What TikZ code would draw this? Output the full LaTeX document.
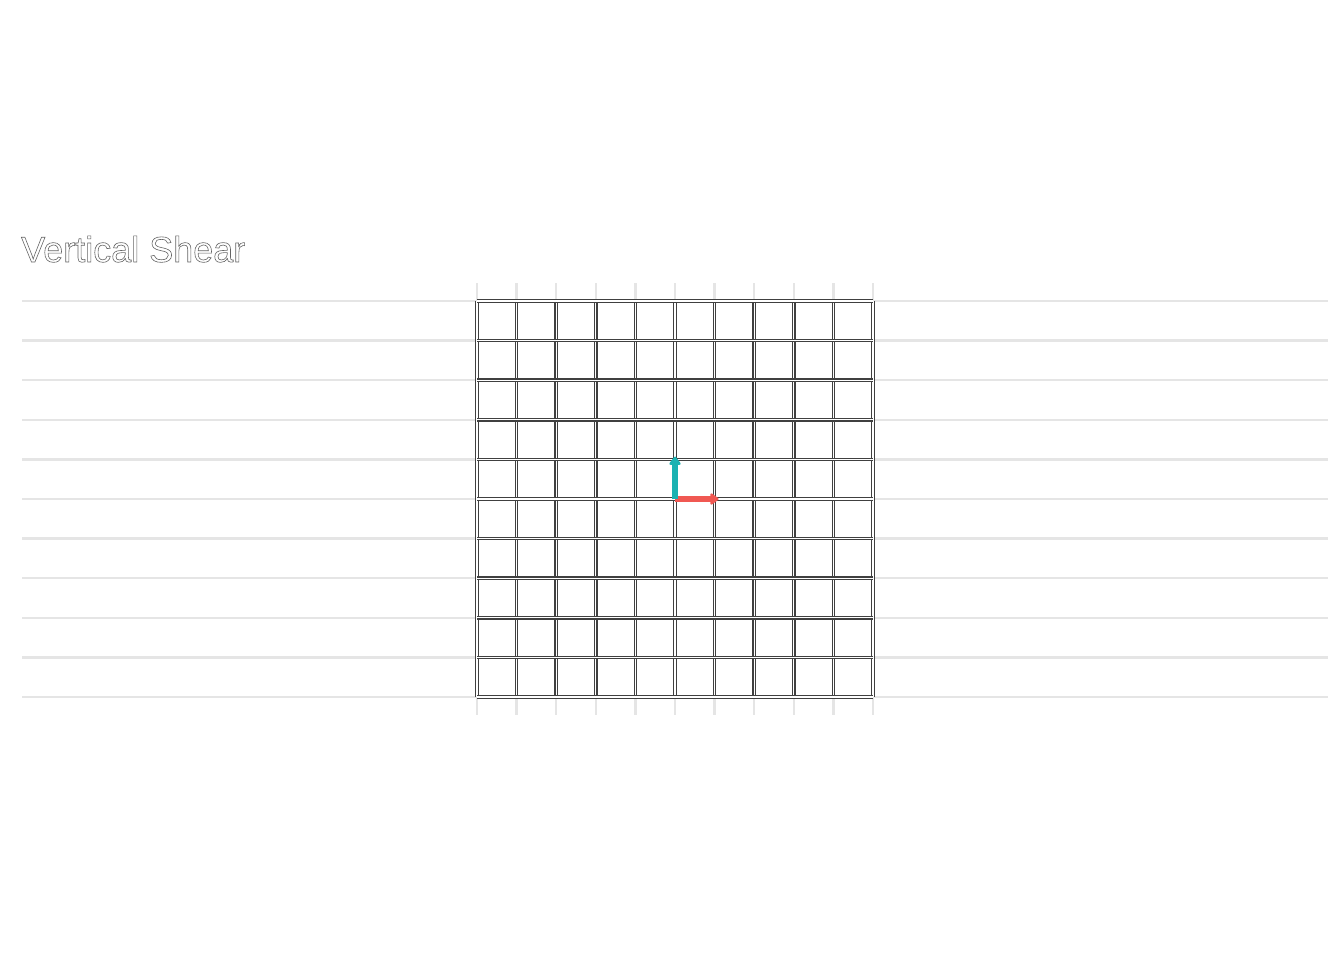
\documentclass[tikz,border=0pt]{standalone}
\usepackage{fontspec}
\setmainfont{Liberation Sans}
\usetikzlibrary{arrows.meta}
\definecolor{panelgrid}{RGB}{229,229,229}
\definecolor{titlegray}{RGB}{100,100,100}
\definecolor{basisx}{RGB}{240,88,82}
\definecolor{basisy}{RGB}{26,178,178}
\tikzset{
  panelline/.style={draw=panelgrid, line width=2.4pt},
  meshline/.style={draw=black!75, line width=1.15pt, double=white, double distance=1.2pt},
  basisvec/.style={line width=6pt, -{Triangle[length=9pt,width=13pt,round]}},
}
\newcommand{\outlinetext}[1]{\special{pdf:code 1 Tr 0.6 w}#1\special{pdf:code 0 Tr}}
\begin{document}
\begin{tikzpicture}[x=1pt,y=-1pt]
  \useasboundingbox (0,0) rectangle (1344,960);
  \node[anchor=base west, inner sep=0pt, text=titlegray, font=\fontsize{36}{40}\selectfont] (title) at (21,262) {\outlinetext{Vertical Shear}};

  \begin{scope}[shift={(675,499)}, x=39.6pt, y=39.6pt]
    % panel background lines
    \foreach \j in {-5,...,5}
      \draw[panelline] (-16.49,\j) -- (16.49,\j);
    \foreach \i in {-5,...,5}
      \draw[panelline] (\i,-5.45) -- (\i,5.45);

    % sheared mesh
    \foreach \i in {-5,...,5}
      \draw[meshline] (\i,-5) -- (\i,5);
    \foreach \j in {-5,...,5}
      \draw[meshline] (-5,\j) -- (5,\j);

    \coordinate (o) at (0,0);
    \coordinate (ex) at (1.1,0);
    \coordinate (ey) at (0,1.07);
    \draw[basisvec, basisx] (o) -- (ex);
    \draw[basisvec, basisy] (o) -- (ey);
  \end{scope}
\end{tikzpicture}
\end{document}
